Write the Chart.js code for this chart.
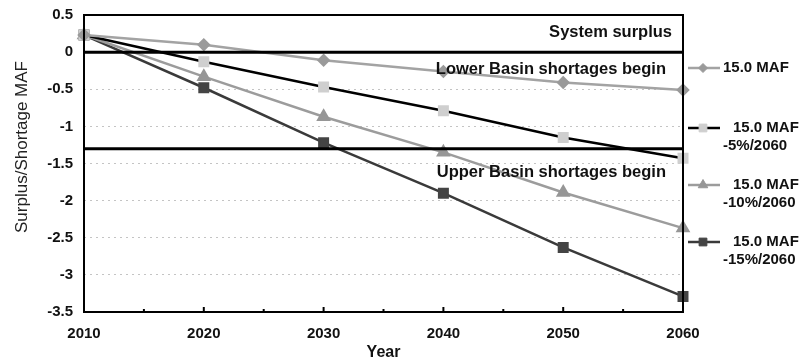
<!DOCTYPE html>
<html>
<head>
<meta charset="utf-8">
<script src="https://cdn.jsdelivr.net/npm/chart.js@4/dist/chart.umd.min.js"></script>
<style>
  html, body { margin: 0; padding: 0; background: #fff; }
</style>
</head>
<body>
<canvas id="myChart" width="799" height="360"></canvas>
<script>
const years = [2010, 2020, 2030, 2040, 2050, 2060];
const maf15 = [0.23, 0.10, -0.11, -0.26, -0.41, -0.51];
const maf15m5 = [0.23, -0.13, -0.47, -0.79, -1.15, -1.43];
const maf15m10 = [0.23, -0.33, -0.87, -1.35, -1.89, -2.37];
const maf15m15 = [0.23, -0.48, -1.22, -1.90, -2.63, -3.29];
const yTicks = [0.5, 0, -0.5, -1, -1.5, -2, -2.5, -3, -3.5];
const thresholds = [0, -1.3];
const legendLabels = [["15.0 MAF"], ["15.0 MAF", "-5%/2060"], ["15.0 MAF", "-10%/2060"], ["15.0 MAF", "-15%/2060"]];
const notes = [
  { text: "System surplus", y: 0.27 },
  { text: "Lower Basin shortages begin", y: -0.23 },
  { text: "Upper Basin shortages begin", y: -1.62 },
];

const FONT = "'Liberation Sans', Arial, sans-serif";
const pts = (arr) => arr.map((v, i) => ({ x: years[i], y: v }));
const flat = (v) => [{ x: years[0], y: v }, { x: years[years.length - 1], y: v }];

const series = [
  { data: maf15, line: "#a3a3a3", fill: "#9a9a9a", style: "rectRot", r: 5 },
  { data: maf15m5, line: "#000000", fill: "#cfcfcf", style: "rect", r: 6 },
  { data: maf15m10, line: "#9c9c9c", fill: "#969696", style: "triangle", r: 6 },
  { data: maf15m15, line: "#3a3a3a", fill: "#444444", style: "rect", r: 6 },
];

const datasets = thresholds.map((t) => ({
  data: flat(t),
  borderColor: "#000",
  borderWidth: 3,
  pointRadius: 0,
}));
series.forEach((s, i) => {
  datasets.push({
    label: legendLabels[i].join(" "),
    data: pts(s.data),
    borderColor: s.line,
    backgroundColor: s.fill,
    pointBackgroundColor: s.fill,
    pointBorderColor: s.fill,
    pointStyle: s.style,
    pointRadius: s.r,
    borderWidth: 2.5,
    clip: false,
    legendIndex: i,
  });
});

// marco, marcas del eje x, notas, titulos y leyenda
const extras = {
  id: "extras",
  afterDraw(chart) {
    const { ctx, chartArea: a, scales } = chart;
    const x = scales.x, y = scales.y;
    ctx.save();
    ctx.strokeStyle = "#000";
    ctx.lineWidth = 2;
    ctx.strokeRect(a.left, a.top, a.right - a.left, a.bottom - a.top);
    for (let yr = 2010; yr <= 2060; yr += 5) {
      const px = x.getPixelForValue(yr);
      ctx.beginPath();
      ctx.moveTo(px, a.bottom);
      ctx.lineTo(px, a.bottom - (yr % 10 === 0 ? 5 : 3));
      ctx.stroke();
    }
    ctx.fillStyle = "#111";
    ctx.font = "bold 16.5px " + FONT;
    ctx.textAlign = "right";
    ctx.textBaseline = "middle";
    notes.forEach((n, i) => ctx.fillText(n.text, a.right - (i === 0 ? 11 : 17), y.getPixelForValue(n.y)));

    // titulos de los ejes
    ctx.textAlign = "center";
    ctx.font = "bold 16px " + FONT;
    ctx.fillText("Year", (a.left + a.right) / 2, 353);
    ctx.save();
    ctx.translate(22, 147);
    ctx.rotate(-Math.PI / 2);
    ctx.font = "17px " + FONT;
    ctx.fillStyle = "#222";
    ctx.fillText("Surplus/Shortage MAF", 0, 0);
    ctx.restore();

    // leyenda
    ctx.font = "bold 15px " + FONT;
    const ds = chart.data.datasets.filter((d) => d.legendIndex !== undefined);
    const rowY = [68, 128, 185, 242];
    ds.forEach((d, i) => {
      const ly = rowY[i];
      ctx.strokeStyle = d.borderColor;
      ctx.lineWidth = 2.5;
      ctx.beginPath();
      ctx.moveTo(688, ly);
      ctx.lineTo(720, ly);
      ctx.stroke();
      ctx.fillStyle = d.pointBackgroundColor;
      ctx.strokeStyle = d.pointBorderColor;
      ctx.lineWidth = 1;
      Chart.helpers.drawPoint(ctx, { pointStyle: d.pointStyle, radius: d.pointRadius - 0.5, borderWidth: 1 }, 703, ly);
      ctx.fillStyle = "#111";
      ctx.textAlign = "left";
      const lines = legendLabels[d.legendIndex];
      if (lines.length === 1) {
        ctx.fillText(lines[0], 723, ly);
      } else {
        ctx.fillText(lines[0], 733, ly);
        ctx.fillText(lines[1], 723, ly + 18);
      }
    });
    ctx.restore();
  },
};

const ctx = document.getElementById("myChart").getContext("2d");
const miGrafico = new Chart(ctx, {
  type: "line",
  data: { datasets: datasets },
  options: {
    responsive: false,
    animation: false,
    maintainAspectRatio: false,
    layout: { padding: { top: 15, right: 116, left: 0, bottom: 0 } },
    scales: {
      x: {
        type: "linear",
        min: 2010,
        max: 2060,
        grid: { display: false, drawTicks: false },
        border: { display: false },
        afterBuildTicks: (s) => { s.ticks = years.map((v) => ({ value: v })); },
        afterFit: (s) => { s.height = 48; s.paddingLeft = 0; s.paddingRight = 0; },
        ticks: {
          padding: 13,
          color: "#111",
          font: { family: FONT, size: 15, weight: "bold" },
          callback: (v) => String(v),
          maxRotation: 0,
        },
        title: { display: false },
      },
      y: {
        min: -3.5,
        max: 0.5,
        grid: { color: "#c4c4c4", lineWidth: 1, drawTicks: false },
        border: { display: false, dash: [2, 4] },
        afterBuildTicks: (s) => { s.ticks = yTicks.map((v) => ({ value: v })); },
        afterFit: (s) => { s.width = 84; s.paddingTop = 0; s.paddingBottom = 0; },
        ticks: {
          padding: 11,
          color: "#111",
          font: { family: FONT, size: 15, weight: "bold" },
          callback: (v) => String(v),
        },
        title: { display: false },
      },
    },
    plugins: { legend: { display: false }, tooltip: { enabled: false } },
  },
  plugins: [extras],
});
</script>
</body>
</html>
